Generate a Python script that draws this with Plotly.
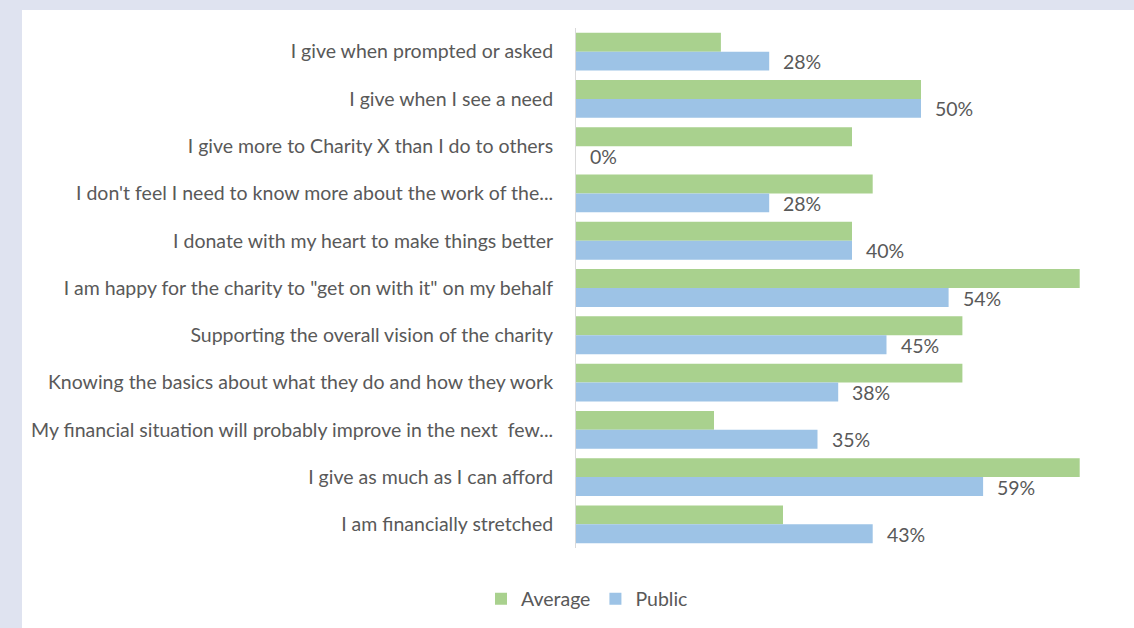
import plotly.graph_objects as go

categories = [
    "I give when prompted or asked",
    "I give when I see a need",
    "I give more to Charity X than I do to others",
    "I don't feel I need to know more about the work of the...",
    "I donate with my heart to make things better",
    "I am happy for the charity to \"get on with it\" on my behalf",
    "Supporting the overall vision of the charity",
    "Knowing the basics about what they do and how they work",
    "My financial situation will probably improve in the next  few...",
    "I give as much as I can afford",
    "I am financially stretched",
]
average = [21, 50, 40, 43, 40, 73, 56, 56, 20, 73, 30]
public = [28, 50, 0, 28, 40, 54, 45, 38, 35, 59, 43]

W, H = 1134, 628
L, R, T, B = 576, 6, 28, 80
pw, ph = W - L - R, H - T - B

def px(x):
    return (x - L) / pw

def py(y):
    return (H - B - y) / ph

GREEN = "#a9d18e"
BLUE = "#9dc3e6"
TXT = "#595959"
FONT = "Lato"
FS = 19.5

fig = go.Figure()
fig.add_trace(go.Bar(name="Average", y=categories, x=average, orientation="h",
                     marker=dict(color=GREEN, line=dict(width=0))))
fig.add_trace(go.Bar(name="Public", y=categories, x=public, orientation="h",
                     marker=dict(color=BLUE, line=dict(width=0))))

for c, v in zip(categories, public):
    fig.add_annotation(x=v, y=c, xref="x", yref="y", text=f"{v}%", showarrow=False,
                       xanchor="left", yanchor="middle", xshift=12, yshift=-10,
                       font=dict(family=FONT, size=FS, color=TXT))

fig.add_shape(type="rect", xref="paper", yref="paper", layer="below",
              x0=px(22), x1=px(W + 10), y0=py(10), y1=py(H + 10),
              fillcolor="white", line=dict(width=0))

fig.update_layout(
    width=W, height=H,
    margin=dict(l=L, r=R, t=T, b=B),
    paper_bgcolor="#dfe3f0",
    plot_bgcolor="white",
    barmode="group", bargap=0.2, bargroupgap=0,
    font=dict(family=FONT, size=FS, color=TXT),
    showlegend=True,
    legend=dict(orientation="h", x=px(587), xanchor="center", y=py(599), yanchor="middle",
                font=dict(family=FONT, size=FS, color=TXT), traceorder="normal",
                bgcolor="rgba(0,0,0,0)", itemwidth=30),
)
fig.update_xaxes(range=[0, 80], showgrid=False, zeroline=False, showticklabels=False,
                 showline=False, ticks="")
fig.update_yaxes(autorange="reversed", showgrid=False, showline=True, linecolor="#d9d9d9",
                 linewidth=1, ticks="", ticklabelstandoff=18,
                 tickfont=dict(family=FONT, size=FS, color=TXT))

fig.write_html("out.html")
